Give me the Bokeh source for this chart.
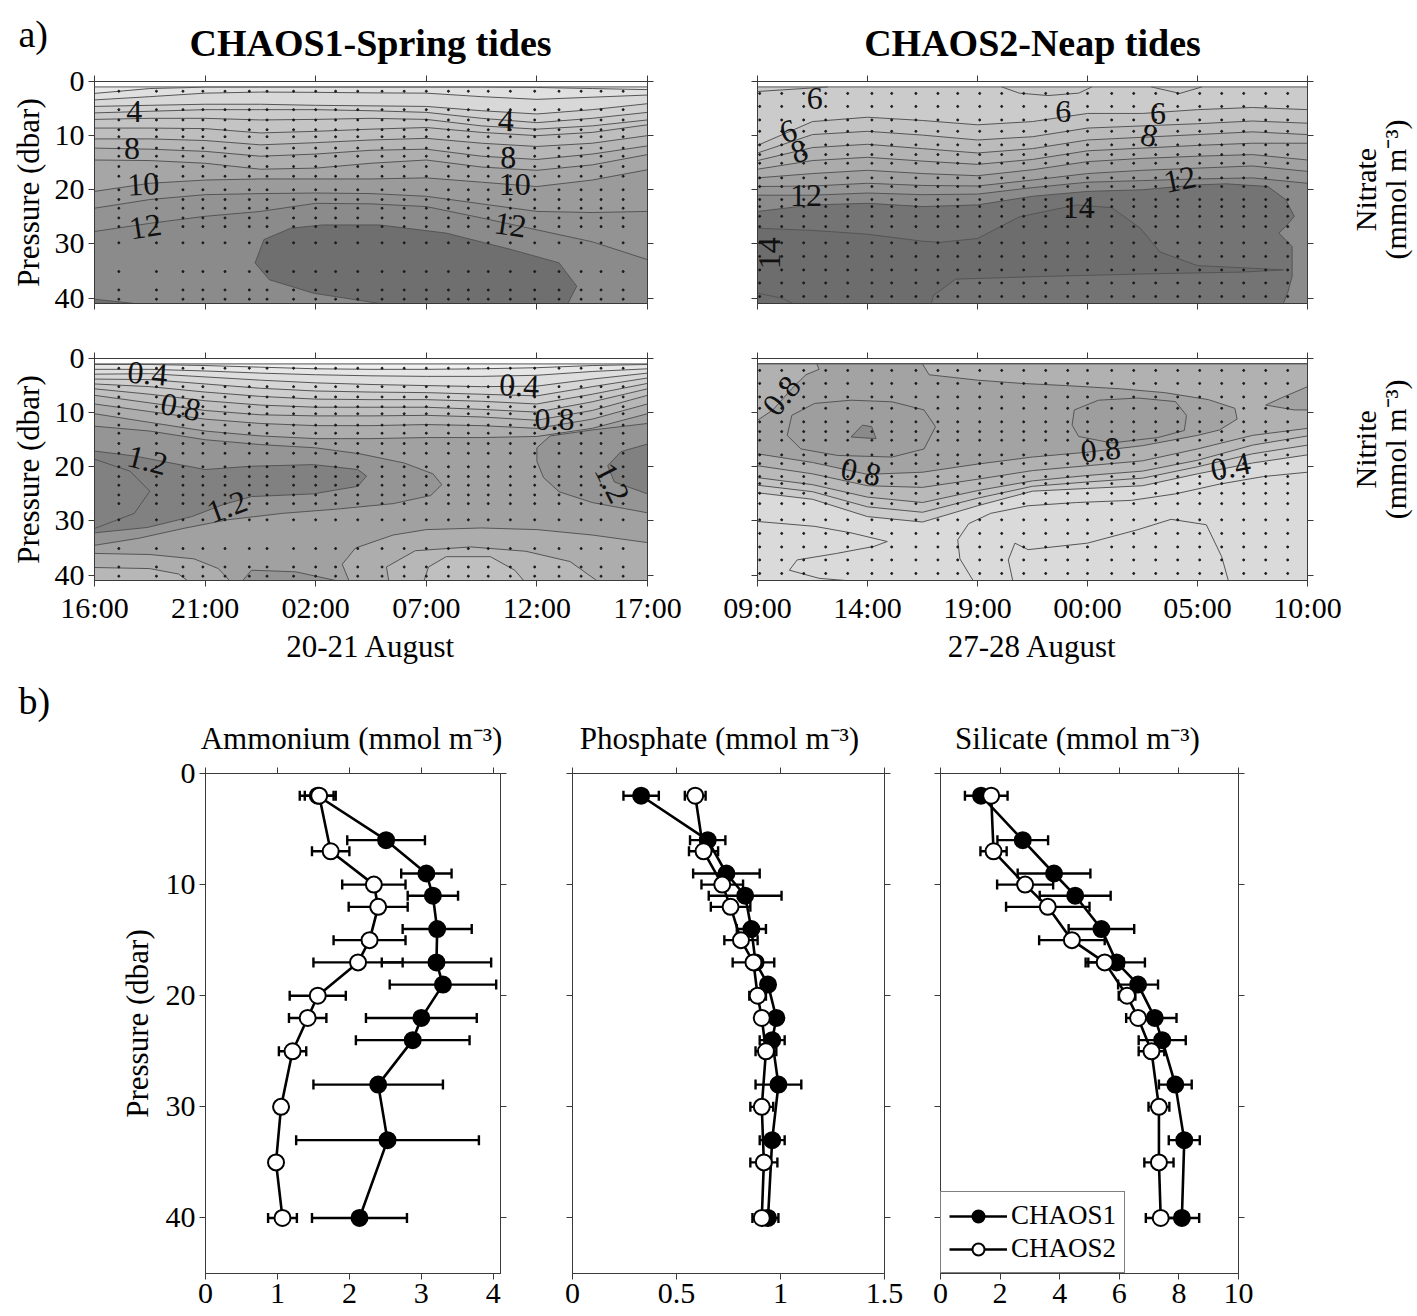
import math
from bokeh.plotting import figure
from bokeh.layouts import column, row
from bokeh.models import (Range1d, FixedTicker, LinearAxis, Whisker, TeeHead,
                          ColumnDataSource, Legend, LegendItem)
from bokeh.core.properties import value
from bokeh.embed import file_html
from bokeh.resources import INLINE

FONT = "Liberation Serif"
AXIS_COLOR = "#3a3a3a"
ISO_COLOR = "#555555"

# ======================= DATA : contour sections =======================
T_START, T_END = 0.0, 25.0              # hours since first cast
TOP_DEPTH, BOTTOM_DEPTH = 1.0, 41.0     # dbar
NODES = [0, 2.5, 5, 7.5, 10, 12.5, 15, 17.5, 20, 22.5, 25]
TIME_TICKS = [0, 5, 10, 15, 20, 25]
C1_TIME_LABELS = ["16:00", "21:00", "02:00", "07:00", "12:00", "17:00"]
C2_TIME_LABELS = ["09:00", "14:00", "19:00", "00:00", "05:00", "10:00"]
DEPTH_TICKS = [0, 10, 20, 30, 40]

C1_CASTS = [1.1, 2.8, 4.0, 4.9, 5.9, 7.0, 7.8, 9.0, 10.0, 10.9, 11.9, 13.0, 14.0, 15.0,
            16.0, 16.9, 17.8, 18.8, 19.9, 21.0, 22.0, 22.9, 23.9]
C1_SAMPLE_DEPTHS = [1.8, 5.2, 7.1, 8.9, 10.2, 12.3, 13.8, 15.7, 17.5, 20.0, 21.8, 23.4,
                    25.2, 26.8, 29.8, 35.1, 38.5, 40.2]
C2_CASTS = [0.1, 1.1, 2.1, 3.1, 4.1, 5.2, 6.1, 7.2, 8.2, 9.1, 10.1, 11.1, 12.1, 13.1, 14.1,
            15.0, 16.1, 17.1, 18.1, 19.1, 20.1, 21.1, 22.1, 23.1, 24.1]
C2_SAMPLE_DEPTHS = [2.2, 4.6, 7.1, 9.2, 11.7, 13.5, 15.1, 17.8, 19.4, 21.8, 23.1, 24.9,
                    26.8, 29.8, 32.3, 34.8, 37.2, 39.7]

# --- Nitrate, CHAOS1: isoline depths (one row per level, at NODES) ---
NO3_C1_LEVELS = [1, 2, 3, 4, 5, 6, 7, 8, 9, 10, 11, 12]
NO3_C1_DEPTHS = [
    [2.2, 1.3, 1.05, 1.05, 1.05, 1.05, 1.05, 1.05, 1.1, 1.3, 1.5],
    [3.4, 2.8, 2.15, 1.95, 2.0, 2.1, 2.15, 2.8, 3.3, 2.9, 2.5],
    [4.6, 4.4, 4.2, 4.2, 4.4, 4.5, 4.6, 5.4, 6.0, 5.2, 4.1],
    [5.8, 5.5, 5.2, 5.2, 5.2, 5.4, 5.7, 6.8, 7.6, 6.8, 5.7],
    [7.0, 6.8, 6.8, 7.1, 7.0, 6.8, 7.0, 8.2, 8.8, 8.2, 7.1],
    [8.6, 8.6, 8.7, 9.5, 9.2, 8.8, 8.5, 9.4, 10.0, 9.4, 8.0],
    [10.6, 10.6, 10.9, 11.7, 11.3, 10.8, 10.5, 11.4, 12.0, 11.4, 10.0],
    [12.3, 12.5, 12.9, 13.8, 13.4, 12.7, 12.5, 13.8, 14.4, 13.4, 11.9],
    [14.5, 14.6, 15.1, 16.2, 16.0, 15.1, 14.5, 15.8, 16.4, 15.4, 13.5],
    [20.3, 18.8, 18.2, 18.0, 18.0, 18.0, 17.8, 18.6, 19.4, 18.2, 16.3],
    [23.4, 21.8, 20.9, 20.7, 20.6, 20.7, 21.2, 22.6, 24.0, 24.2, 24.0],
    [27.7, 26.2, 24.9, 24.0, 22.5, 22.6, 23.1, 25.2, 27.4, 29.6, 32.9],
]
NO3_C1_MAX13_T = [7.26, 7.66, 8.87, 10.3, 12.9, 15.9, 18.9, 21.0, 21.8, 21.4, 12.9, 9.9, 7.9]
NO3_C1_MAX13_D = [33.5, 29.2, 27.1, 26.5, 26.5, 28.0, 31.1, 33.5, 37.8, 41.0, 41.0, 39.1, 36.6]
NO3_C1_CORNER13_T = [0, 1.8, 0]
NO3_C1_CORNER13_D = [40.2, 41.0, 41.0]
NO3_C1_LABEL_T = [1.8, 1.7, 2.2, 2.3, 18.6, 18.7, 19.0, 18.8]
NO3_C1_LABEL_D = [5.5, 12.4, 19.0, 26.8, 7.2, 14.1, 19.0, 26.5]
NO3_C1_LABEL_TXT = ["4", "8", "10", "12", "4", "8", "10", "12"]
NO3_C1_LABEL_ANG = [0, 0, 0.05, 0.15, -0.05, 0, 0, -0.15]

# --- Nitrate, CHAOS2 ---
NO3_C2_LEVELS = [6, 7, 8, 9, 10, 11, 12]
NO3_C2_DEPTHS = [
    [11.8, 7.4, 6.6, 7.2, 8.0, 7.4, 5.9, 5.9, 5.2, 4.8, 5.2],
    [13.2, 9.8, 9.2, 9.9, 10.8, 10.2, 8.6, 8.2, 7.8, 7.3, 7.7],
    [14.6, 12.2, 11.6, 12.4, 13.2, 12.4, 10.8, 10.3, 9.8, 9.3, 9.8],
    [16.2, 14.6, 14.0, 14.7, 15.3, 14.4, 12.8, 12.3, 11.8, 11.4, 11.4],
    [17.8, 17.0, 16.4, 17.0, 17.4, 16.3, 14.8, 14.2, 13.8, 13.5, 14.5],
    [19.4, 19.3, 18.8, 19.2, 19.3, 18.2, 17.0, 16.4, 16.0, 15.6, 16.6],
    [21.0, 21.0, 20.6, 20.9, 20.8, 19.6, 18.6, 18.3, 18.0, 17.8, 18.8],
]
NO3_C2_MAX13_T = [0, 2.5, 5, 7.5, 10, 12.5, 15, 17.5, 20, 21.3, 23.2, 24.0, 24.4, 24.0, 23.7,
                  24.3, 24.3, 24.1, 23.9, 0]
NO3_C2_MAX13_D = [24.0, 22.8, 22.5, 23.1, 22.8, 21.2, 20.3, 20.0, 19.1, 18.9, 19.4, 21.8, 24.9,
                  26.8, 28.0, 30.5, 36.0, 39.0, 41.0, 41.0]
NO3_C2_MAX14_T = [0, 2.5, 5, 7.5, 8.3, 10, 11.9, 14.5, 16.1, 17.4, 18.3, 20, 22.5, 23.9, 22,
                  18, 13, 9, 8, 7.9, 0]
NO3_C2_MAX14_D = [27.1, 27.5, 28.2, 29.5, 29.7, 29.0, 25.0, 22.8, 23.3, 27.1, 31.5, 34.0, 34.5,
                  34.8, 35.2, 35.5, 36.0, 36.5, 39.5, 41.0, 41.0]
NO3_C2_POCKET1_T = [0, 1.14, 3.2]
NO3_C2_POCKET1_D = [1.85, 1.55, 1.0]
NO3_C2_POCKET2_T = [11.1, 11.9, 13.2, 14.6, 15.2]
NO3_C2_POCKET2_D = [1.0, 2.15, 2.6, 2.15, 1.0]
NO3_C2_POCKET3_T = [17.9, 19.2, 20.2]
NO3_C2_POCKET3_D = [1.0, 2.2, 1.0]
NO3_C2_CORNER_T = [0, 1.1, 1.6]
NO3_C2_CORNER_D = [39.1, 40.0, 41.0]
NO3_C2_LABEL_T = [2.6, 1.4, 1.9, 2.2, 0.55, 13.9, 14.6, 18.2, 17.8, 19.2]
NO3_C2_LABEL_D = [3.1, 9.2, 12.9, 21.1, 31.7, 5.6, 23.3, 5.9, 10.0, 18.1]
NO3_C2_LABEL_TXT = ["6", "6", "8", "12", "14", "6", "14", "6", "8", "12"]
NO3_C2_LABEL_ANG = [0, 0.3, 0.3, 0, math.pi / 2, 0, 0, 0, -0.25, 0.2]

# --- Nitrite, CHAOS1 ---
NO2_C1_LEVELS = [0.2, 0.3, 0.4, 0.5, 0.6, 0.7, 0.8, 0.9, 1.0]
NO2_C1_DEPTHS = [
    [1.1, 1.1, 1.3, 1.6, 1.9, 2.0, 2.0, 1.9, 1.7, 1.3, 1.1],
    [2.0, 2.0, 2.3, 2.7, 3.0, 3.2, 3.3, 3.3, 3.1, 2.4, 1.9],
    [2.9, 2.8, 3.4, 4.0, 4.5, 4.8, 5.0, 5.2, 5.1, 3.8, 2.7],
    [3.8, 3.9, 4.7, 5.5, 6.0, 6.2, 6.3, 6.6, 6.9, 5.2, 3.6],
    [4.7, 5.2, 6.2, 7.0, 7.5, 7.6, 7.6, 7.9, 8.4, 6.6, 4.6],
    [5.6, 6.6, 7.8, 8.6, 9.0, 9.0, 9.0, 9.4, 9.9, 8.0, 5.6],
    [6.8, 8.2, 9.6, 10.4, 10.6, 10.6, 10.5, 10.8, 11.4, 9.6, 6.8],
    [8.4, 9.8, 11.2, 12.0, 12.4, 12.4, 12.2, 12.4, 12.9, 11.2, 8.4],
    [10.2, 11.8, 13.4, 14.3, 14.8, 14.8, 14.6, 14.6, 14.4, 12.9, 10.2],
]
NO2_C1_LOW10_LEFT_T = [0, 2.5, 4.5, 5.6, 6.1]
NO2_C1_LOW10_LEFT_D = [36.0, 36.2, 37.0, 38.8, 41.0]
NO2_C1_LOW10_RIGHT_T = [11.5, 11.2, 11.8, 13.5, 15, 17.5, 20, 22.5, 25]
NO2_C1_LOW10_RIGHT_D = [41.0, 38.0, 35.0, 32.6, 31.6, 31.3, 31.6, 32.6, 34.0]
NO2_C1_LOW09_LEFT_T = [0, 2.5, 3.8, 4.2]
NO2_C1_LOW09_LEFT_D = [38.6, 38.8, 39.8, 41.0]
NO2_C1_LOW09_MID_T = [13.3, 13.2, 14.5, 17, 19.5, 21.5, 22.7]
NO2_C1_LOW09_MID_D = [41.0, 38.5, 35.5, 34.8, 35.6, 37.5, 41.0]
NO2_C1_LOW08_T = [14.9, 15.1, 15.9, 17.9, 19.0, 19.4]
NO2_C1_LOW08_D = [41.0, 38.5, 36.6, 36.6, 39.1, 41.0]
NO2_C1_HI11_LEFT_T = [0, 2.5, 5, 7.5, 10, 12, 14, 15.3, 15.7, 15.2, 13.5, 11, 8.5, 6, 4, 2, 0]
NO2_C1_HI11_LEFT_D = [12.5, 13.4, 15.0, 15.9, 16.5, 17.6, 19.3, 21.3, 23.3, 25.3, 26.8, 27.8,
                      28.6, 29.8, 31.4, 33.2, 34.5]
NO2_C1_HI11_RIGHT_T = [25, 22.5, 20.6, 20.0, 20.0, 20.3, 21.0, 22.5, 25]
NO2_C1_HI11_RIGHT_D = [12.0, 13.2, 14.3, 16.5, 19.0, 22.0, 24.6, 26.6, 28.5]
NO2_C1_HI11_BOTTOM_T = [6.7, 7.1, 9.1, 10.9]
NO2_C1_HI11_BOTTOM_D = [41.0, 39.1, 39.4, 41.0]
NO2_C1_HI12_LEFT_T = [0, 1.8, 5.0, 7.1, 9.9, 11.9, 12.3, 11.9, 9.9, 7.1, 5.8, 4.4, 2.4, 0]
NO2_C1_HI12_LEFT_D = [17.1, 18.0, 20.5, 19.9, 19.6, 20.5, 21.7, 23.6, 25.0, 25.5, 27.0, 29.2,
                      31.2, 32.2]
NO2_C1_HI12_RIGHT_T = [25, 23.8, 23.2, 23.5, 25]
NO2_C1_HI12_RIGHT_D = [15.8, 17.2, 19.8, 22.8, 25.0]
NO2_C1_HI13_T = [0, 1.6, 2.5, 1.8, 0]
NO2_C1_HI13_D = [18.6, 20.8, 24.5, 28.6, 31.4]
NO2_C1_LABEL_T = [2.4, 3.9, 2.4, 6.0, 19.2, 20.8, 23.4]
NO2_C1_LABEL_D = [2.8, 9.0, 18.8, 27.4, 5.0, 11.2, 23.0]
NO2_C1_LABEL_TXT = ["0.4", "0.8", "1.2", "1.2", "0.4", "0.8", "1.2"]
NO2_C1_LABEL_ANG = [-0.08, -0.2, -0.25, 0.35, -0.05, 0.0, -1.1]

# --- Nitrite, CHAOS2 ---
NO2_C2_A_T = [0, 2.5, 5, 7.5, 10, 12.5, 15, 17.5, 20]
NO2_C2_A_D = [17.6, 19.2, 21.4, 21.0, 19.5, 18.2, 17.3, 16.1, 14.2]          # 0.8
NO2_C2_F_T = [7.5, 7.8, 10, 12, 14, 16.5, 18.5, 20.5, 21.7, 21.8, 21.0]
NO2_C2_F_D = [1.0, 3.0, 4.0, 4.6, 5.0, 5.6, 6.3, 7.6, 9.2, 11.2, 13.2]        # 0.8
NO2_C2_PK_T = [0, 0.7, 1.55, 2.2, 2.8, 2.7]
NO2_C2_PK_D = [11.4, 9.5, 5.6, 3.0, 2.0, 1.0]                                # 0.8
NO2_C2_B = [19.8, 21.3, 23.5, 23.8, 22.3, 20.7, 19.8, 18.9, 16.7, 14.2, 12.9]   # 0.7
NO2_C2_C = [22.0, 23.3, 25.6, 26.6, 24.4, 22.6, 21.6, 20.8, 18.8, 16.0, 14.3]   # 0.6
NO2_C2_D = [23.4, 24.6, 27.4, 28.4, 25.8, 23.6, 22.8, 22.1, 20.0, 17.6, 16.0]   # 0.5
NO2_C2_E = [24.8, 26.0, 29.2, 30.2, 27.2, 24.5, 24.0, 23.5, 21.3, 19.3, 17.8]   # 0.4
NO2_C2_TRPK_T = [23.1, 23.8, 25, 25, 24.4]
NO2_C2_TRPK_D = [8.6, 7.3, 5.2, 9.5, 9.5]
NO2_C2_OVAL1_T = [1.35, 1.56, 2.59, 4.25, 6.12, 7.57, 8.09, 7.57, 6.12, 3.63, 1.97]
NO2_C2_OVAL1_D = [14.2, 10.5, 8.3, 7.7, 8.0, 9.5, 12.6, 16.7, 18.2, 17.9, 16.7]
NO2_C2_OVAL2_T = [14.4, 15.5, 17.3, 19.0, 19.5, 19.4, 18.2, 16.1, 14.6, 14.3]
NO2_C2_OVAL2_D = [9.5, 7.7, 7.3, 7.96, 10.5, 13.3, 14.6, 15.6, 14.4, 12.3]
NO2_C2_BLOB_T = [4.25, 4.77, 5.19, 5.39]
NO2_C2_BLOB_D = [14.5, 12.3, 12.6, 14.8]
NO2_C2_G_T = [9.8, 9.2, 9.1, 9.6, 10.6, 12.3, 14.5, 17, 19, 21, 23, 25]
NO2_C2_G_D = [41.0, 37.0, 33.5, 30.5, 28.6, 27.2, 26.6, 26.2, 25.0, 23.2, 21.8, 21.0]
NO2_C2_H_T = [11.6, 11.4, 11.7, 12.3, 15.0, 17.3, 18.8, 20.4, 21.1, 21.4]
NO2_C2_H_D = [41.0, 37.2, 34.1, 35.3, 34.1, 31.6, 29.7, 30.7, 36.6, 41.0]
NO2_C2_BL_T = [0, 2.6, 4.25, 5.9, 5.3, 3.6, 1.8, 1.45, 2.8, 4.0]
NO2_C2_BL_D = [30.1, 31.0, 32.2, 33.8, 34.7, 36.0, 37.2, 39.1, 40.6, 41.0]
NO2_C2_LABEL_T = [1.1, 4.7, 15.6, 21.5]
NO2_C2_LABEL_D = [6.9, 21.0, 16.9, 20.0]
NO2_C2_LABEL_TXT = ["0.8", "0.8", "0.8", "0.4"]
NO2_C2_LABEL_ANG = [0.9, -0.2, 0.1, 0.2]

# ======================= DATA : vertical profiles =======================
DEPTH_C1 = [2, 6, 9, 11, 14, 17, 19, 22, 24, 28, 33, 40]
DEPTH_C2 = [2, 7, 10, 12, 15, 17, 20, 22, 25, 30, 35, 40]
NH4_C1 = [1.56, 2.51, 3.07, 3.16, 3.22, 3.21, 3.30, 3.00, 2.88, 2.40, 2.53, 2.14]
NH4_C1_ERR = [0.25, 0.54, 0.35, 0.35, 0.48, 0.76, 0.74, 0.77, 0.79, 0.90, 1.27, 0.66]
NH4_C2 = [1.58, 1.74, 2.34, 2.40, 2.28, 2.12, 1.56, 1.42, 1.21, 1.05, 0.98, 1.07]
NH4_C2_ERR = [0.20, 0.26, 0.44, 0.41, 0.50, 0.62, 0.39, 0.26, 0.19, 0.08, 0.08, 0.20]
PO4_C1 = [0.33, 0.65, 0.74, 0.83, 0.86, 0.88, 0.94, 0.98, 0.96, 0.99, 0.96, 0.94]
PO4_C1_ERR = [0.085, 0.085, 0.16, 0.175, 0.07, 0.03, 0.03, 0.03, 0.06, 0.11, 0.06, 0.05]
PO4_C2 = [0.59, 0.63, 0.72, 0.76, 0.81, 0.87, 0.89, 0.91, 0.93, 0.91, 0.92, 0.91]
PO4_C2_ERR = [0.05, 0.07, 0.10, 0.095, 0.08, 0.10, 0.04, 0.03, 0.05, 0.055, 0.065, 0.045]
SIO_C1 = [1.36, 2.76, 3.81, 4.52, 5.40, 5.91, 6.63, 7.19, 7.44, 7.88, 8.18, 8.10]
SIO_C1_ERR = [0.54, 0.85, 1.22, 1.19, 1.10, 0.95, 0.67, 0.73, 0.79, 0.55, 0.52, 0.58]
SIO_C2 = [1.70, 1.78, 2.84, 3.60, 4.41, 5.51, 6.26, 6.63, 7.08, 7.33, 7.33, 7.39]
SIO_C2_ERR = [0.55, 0.44, 0.94, 1.40, 1.10, 0.64, 0.28, 0.40, 0.43, 0.35, 0.49, 0.50]
NH4_TICKS = [0, 1, 2, 3, 4]
PO4_TICKS = [0, 0.5, 1, 1.5]
SIO_TICKS = [0, 2, 4, 6, 8, 10]
PROFILE_DEPTH_TICKS = [0, 10, 20, 30, 40]

# ======================= STYLE =======================
NO3_C1_SHADES = ["#e8e8e8", "#e0e0e0", "#d8d8d8", "#d0d0d0", "#cacaca", "#c4c4c4", "#bebebe",
                 "#b6b6b6", "#aeaeae", "#a6a6a6", "#9b9b9b", "#939393", "#8b8b8b"]
NO3_C1_SHADE13 = "#6f6f6f"
NO3_C2_SHADES = ["#cbcbcb", "#c3c3c3", "#bbbbbb", "#b3b3b3", "#ababab", "#a1a1a1", "#979797",
                 "#8b8b8b"]
NO3_C2_SHADE13, NO3_C2_SHADE14 = "#747474", "#6d6d6d"
NO2_C1_SHADES = ["#efefef", "#e6e6e6", "#dedede", "#d6d6d6", "#cecece", "#c7c7c7", "#bfbfbf",
                 "#b7b7b7", "#adadad", "#a1a1a1"]
NO2_C1_S11, NO2_C1_S12 = "#959595", "#818181"
NO2_C2_S = {"0.2": "#dadada", "0.4": "#cbcbcb", "0.5": "#c3c3c3", "0.6": "#b9b9b9",
            "0.7": "#b1b1b1", "0.8": "#a3a3a3", "0.9": "#9e9e9e", "1.0": "#8a8a8a"}

FULL_W = 1417
HEAD_A_H = 64
W_TL, W_TR = 702, 645
W_RL = FULL_W - W_TL - W_TR
H1 = 17 + 222 + 20
H2 = 35 + 222 + 90
HEAD_B_H = 86
H3 = 17 + 500 + 43


def whole():
    return [T_START, T_END, T_END, T_START], [TOP_DEPTH, TOP_DEPTH, BOTTOM_DEPTH, BOTTOM_DEPTH]


def below(ts, ds):
    return list(ts) + [ts[-1], ts[0]], list(ds) + [BOTTOM_DEPTH, BOTTOM_DEPTH]


def above(ts, ds):
    return list(ts) + [ts[-1], ts[0]], list(ds) + [TOP_DEPTH, TOP_DEPTH]


def add_axis(p, side, ticks, labels=None, size="30px", axis_label=None, label_standoff=6):
    ax = LinearAxis(ticker=FixedTicker(ticks=ticks, minor_ticks=[]))
    ax.major_tick_in = 0
    ax.major_tick_out = 6
    ax.minor_tick_in = 0
    ax.minor_tick_out = 0
    ax.axis_line_color = AXIS_COLOR
    ax.major_tick_line_color = AXIS_COLOR
    ax.major_label_text_font = FONT
    if labels is None:
        ax.major_label_text_font_size = "1px"
        ax.major_label_text_color = None
        ax.major_label_standoff = 0
    else:
        ax.major_label_text_color = "black"
        ax.major_label_text_font_size = size
        ax.major_label_standoff = 4
        ax.major_label_overrides = {t: l for t, l in zip(ticks, labels)}
    if axis_label:
        ax.axis_label = axis_label
        ax.axis_label_text_font = FONT
        ax.axis_label_text_font_size = "31px"
        ax.axis_label_text_font_style = "normal"
        ax.axis_label_text_color = "black"
        ax.axis_label_standoff = label_standoff
    p.add_layout(ax, side)
    return ax


def new_fig(w, h, bl, br, bt, bb, xr, yr):
    p = figure(width=w, height=h, x_range=xr, y_range=yr, x_axis_type=None, y_axis_type=None,
               output_backend="svg", toolbar_location=None,
               min_border_left=bl, min_border_right=br, min_border_top=bt, min_border_bottom=bb)
    p.outline_line_color = AXIS_COLOR
    p.outline_line_width = 1
    p.background_fill_color = "white"
    p.border_fill_color = "white"
    return p


def text_fig(w, h, items):
    """A frame-only canvas (pixel coordinates) holding free text."""
    p = figure(width=w, height=h, x_range=Range1d(0, w), y_range=Range1d(h, 0),
               x_axis_type=None, y_axis_type=None, output_backend="svg",
               toolbar_location=None, min_border=0)
    p.outline_line_color = None
    p.background_fill_color = "white"
    p.border_fill_color = "white"
    for (x, y, txt, size, bold, align, baseline, ang) in items:
        p.text(x=[x], y=[y], text=[txt], angle=ang, text_font=value(FONT),
               text_font_size=value(size), text_font_style="bold" if bold else "normal",
               text_align=align, text_baseline=baseline, text_color="black")
    return p


def section(w, h, bl, br, bt, bb, regions, lines, casts, depths, labels,
            time_labels, left_labels, bottom_labels, xlabel=None):
    p = new_fig(w, h, bl, br, bt, bb, Range1d(T_START, T_END), Range1d(BOTTOM_DEPTH, 0))
    p.patches(xs=[r[0] for r in regions], ys=[r[1] for r in regions],
              fill_color=[r[2] for r in regions], line_color=ISO_COLOR, line_width=1)
    if lines:
        p.multi_line(xs=[l[0] for l in lines], ys=[l[1] for l in lines],
                     line_color=ISO_COLOR, line_width=1)
    dx = [t for t in casts for d in depths]
    dy = [d for t in casts for d in depths]
    p.scatter(x=dx, y=dy, size=2.0, color="#1a1a1a")
    lt, ld, ltxt, lang = labels
    p.text(x=lt, y=ld, text=ltxt, angle=lang, text_font=value(FONT),
           text_font_size=value("32px"), text_align="center", text_baseline="middle",
           text_color="#111111")
    add_axis(p, "below", TIME_TICKS, time_labels if bottom_labels else None,
             axis_label=xlabel, label_standoff=2)
    add_axis(p, "left", DEPTH_TICKS, [str(d) for d in DEPTH_TICKS] if left_labels else None,
             axis_label="Pressure (dbar)" if left_labels else None, label_standoff=6)
    add_axis(p, "above", TIME_TICKS, None)
    add_axis(p, "right", DEPTH_TICKS, None)
    return p


# ---------------- header a) ----------------
head_a = text_fig(FULL_W, HEAD_A_H, [
    (18, 33, "a)", "38px", False, "left", "middle", 0.0),
    (370, 42, "CHAOS1-Spring tides", "38px", True, "center", "middle", 0.0),
    (1032, 42, "CHAOS2-Neap tides", "38px", True, "center", "middle", 0.0),
])

# ---------------- top-left: nitrate CHAOS1 ----------------
reg = [whole() + (NO3_C1_SHADES[0],)]
for i, d in enumerate(NO3_C1_DEPTHS):
    reg.append(below(NODES, d) + (NO3_C1_SHADES[i + 1],))
reg.append((NO3_C1_MAX13_T, NO3_C1_MAX13_D, NO3_C1_SHADE13))
reg.append((NO3_C1_CORNER13_T, NO3_C1_CORNER13_D, NO3_C1_SHADE13))
tl = section(W_TL, H1, 94, 55, 17, 20, reg, [], C1_CASTS, C1_SAMPLE_DEPTHS,
             (NO3_C1_LABEL_T, NO3_C1_LABEL_D, NO3_C1_LABEL_TXT, NO3_C1_LABEL_ANG),
             C1_TIME_LABELS, True, False)

# ---------------- top-right: nitrate CHAOS2 ----------------
reg = [whole() + (NO3_C2_SHADES[0],)]
for i, d in enumerate(NO3_C2_DEPTHS):
    reg.append(below(NODES, d) + (NO3_C2_SHADES[i + 1],))
reg.append((NO3_C2_MAX13_T, NO3_C2_MAX13_D, NO3_C2_SHADE13))
reg.append((NO3_C2_MAX14_T, NO3_C2_MAX14_D, NO3_C2_SHADE14))
lines = [(NO3_C2_POCKET1_T, NO3_C2_POCKET1_D), (NO3_C2_POCKET2_T, NO3_C2_POCKET2_D),
         (NO3_C2_POCKET3_T, NO3_C2_POCKET3_D), (NO3_C2_CORNER_T, NO3_C2_CORNER_D)]
tr = section(W_TR, H1, 55, 40, 17, 20, reg, lines, C2_CASTS, C2_SAMPLE_DEPTHS,
             (NO3_C2_LABEL_T, NO3_C2_LABEL_D, NO3_C2_LABEL_TXT, NO3_C2_LABEL_ANG),
             C2_TIME_LABELS, False, False)
rl1 = text_fig(W_RL, H1, [
    (18, 126, "Nitrate", "30px", False, "center", "middle", math.pi / 2),
    (48, 126, "(mmol m\u207b\u00b3)", "30px", False, "center", "middle", math.pi / 2),
])

# ---------------- bottom-left: nitrite CHAOS1 ----------------
reg = [whole() + (NO2_C1_SHADES[0],)]
for i, d in enumerate(NO2_C1_DEPTHS):
    reg.append(below(NODES, d) + (NO2_C1_SHADES[i + 1],))
reg.append((NO2_C1_LOW10_LEFT_T + [0], NO2_C1_LOW10_LEFT_D + [41.0], NO2_C1_SHADES[8]))
reg.append((NO2_C1_LOW10_RIGHT_T + [25], NO2_C1_LOW10_RIGHT_D + [41.0], NO2_C1_SHADES[8]))
reg.append((NO2_C1_LOW09_LEFT_T + [0], NO2_C1_LOW09_LEFT_D + [41.0], NO2_C1_SHADES[7]))
reg.append((NO2_C1_LOW09_MID_T, NO2_C1_LOW09_MID_D, NO2_C1_SHADES[7]))
reg.append((NO2_C1_LOW08_T, NO2_C1_LOW08_D, NO2_C1_SHADES[6]))
reg.append((NO2_C1_HI11_LEFT_T, NO2_C1_HI11_LEFT_D, NO2_C1_S11))
reg.append((NO2_C1_HI11_RIGHT_T, NO2_C1_HI11_RIGHT_D, NO2_C1_S11))
reg.append((NO2_C1_HI11_BOTTOM_T, NO2_C1_HI11_BOTTOM_D, NO2_C1_S11))
reg.append((NO2_C1_HI12_LEFT_T, NO2_C1_HI12_LEFT_D, NO2_C1_S12))
reg.append((NO2_C1_HI12_RIGHT_T, NO2_C1_HI12_RIGHT_D, NO2_C1_S12))
bl = section(W_TL, H2, 94, 55, 35, 90, reg, [(NO2_C1_HI13_T, NO2_C1_HI13_D)],
             C1_CASTS, C1_SAMPLE_DEPTHS,
             (NO2_C1_LABEL_T, NO2_C1_LABEL_D, NO2_C1_LABEL_TXT, NO2_C1_LABEL_ANG),
             C1_TIME_LABELS, True, True, xlabel="20-21 August")

# ---------------- bottom-right: nitrite CHAOS2 ----------------
hi08_t = NO2_C2_PK_T + NO2_C2_F_T + NO2_C2_A_T[::-1]
hi08_d = NO2_C2_PK_D + NO2_C2_F_D + NO2_C2_A_D[::-1]
reg = [whole() + (NO2_C2_S["0.2"],),
       above(NODES, NO2_C2_E) + (NO2_C2_S["0.4"],),
       above(NODES, NO2_C2_D) + (NO2_C2_S["0.5"],),
       above(NODES, NO2_C2_C) + (NO2_C2_S["0.6"],),
       above(NODES, NO2_C2_B) + (NO2_C2_S["0.7"],),
       (hi08_t, hi08_d, NO2_C2_S["0.8"]),
       (NO2_C2_TRPK_T, NO2_C2_TRPK_D, NO2_C2_S["0.8"]),
       (NO2_C2_OVAL1_T, NO2_C2_OVAL1_D, NO2_C2_S["0.9"]),
       (NO2_C2_OVAL2_T, NO2_C2_OVAL2_D, NO2_C2_S["0.9"]),
       (NO2_C2_BLOB_T, NO2_C2_BLOB_D, NO2_C2_S["1.0"])]
lines = [(NO2_C2_G_T, NO2_C2_G_D), (NO2_C2_H_T, NO2_C2_H_D), (NO2_C2_BL_T, NO2_C2_BL_D)]
br = section(W_TR, H2, 55, 40, 35, 90, reg, lines, C2_CASTS, C2_SAMPLE_DEPTHS,
             (NO2_C2_LABEL_T, NO2_C2_LABEL_D, NO2_C2_LABEL_TXT, NO2_C2_LABEL_ANG),
             C2_TIME_LABELS, False, True, xlabel="27-28 August")
rl2 = text_fig(W_RL, H2, [
    (18, 142, "Nitrite", "30px", False, "center", "middle", math.pi / 2),
    (48, 142, "(mmol m\u207b\u00b3)", "30px", False, "center", "middle", math.pi / 2),
])

# ---------------- header b) ----------------
head_b = text_fig(FULL_W, HEAD_B_H, [
    (18, 30, "b)", "38px", False, "left", "middle", 0.0),
    (351, 68, "Ammonium (mmol m\u207b\u00b3)", "31px", False, "center", "middle", 0.0),
    (719, 68, "Phosphate (mmol m\u207b\u00b3)", "31px", False, "center", "middle", 0.0),
    (1077, 68, "Silicate (mmol m\u207b\u00b3)", "31px", False, "center", "middle", 0.0),
])


# ---------------- profiles ----------------
def profile(w, bl_, br_, xmax, ticks, c1, c1e, c2, c2e, left_labels):
    p = new_fig(w, H3, bl_, br_, 17, 43, Range1d(0, xmax), Range1d(45, 0))
    for vals, errs, deps in ((c1, c1e, DEPTH_C1), (c2, c2e, DEPTH_C2)):
        src = ColumnDataSource(dict(y=deps, lo=[v - e for v, e in zip(vals, errs)],
                                    hi=[v + e for v, e in zip(vals, errs)]))
        wk = Whisker(source=src, base="y", lower="lo", upper="hi", dimension="width",
                     line_color="black", line_width=2.4, level="underlay",
                     upper_head=TeeHead(size=10, line_color="black", line_width=2.4),
                     lower_head=TeeHead(size=10, line_color="black", line_width=2.4))
        p.add_layout(wk)
    l1 = p.line(c1, DEPTH_C1, line_color="black", line_width=2.6)
    l2 = p.line(c2, DEPTH_C2, line_color="black", line_width=2.6)
    s1 = p.scatter(c1, DEPTH_C1, size=16, fill_color="black", line_color="black", line_width=2)
    s2 = p.scatter(c2, DEPTH_C2, size=16, fill_color="white", line_color="black", line_width=2)
    add_axis(p, "below", ticks, [("%g" % t) for t in ticks], size="30px")
    add_axis(p, "left", PROFILE_DEPTH_TICKS,
             [str(t) for t in PROFILE_DEPTH_TICKS] if left_labels else None,
             axis_label="Pressure (dbar)" if left_labels else None, label_standoff=8)
    add_axis(p, "above", ticks, None)
    add_axis(p, "right", PROFILE_DEPTH_TICKS, None)
    return p, (l1, s1, l2, s2)


am, _ = profile(536, 205, 36, 4.1, NH4_TICKS, NH4_C1, NH4_C1_ERR, NH4_C2, NH4_C2_ERR, True)
ph, _ = profile(376, 36, 28, 1.5, PO4_TICKS, PO4_C1, PO4_C1_ERR, PO4_C2, PO4_C2_ERR, False)
si, rs = profile(505, 28, 179, 10, SIO_TICKS, SIO_C1, SIO_C1_ERR, SIO_C2, SIO_C2_ERR, False)

legend = Legend(items=[LegendItem(label="CHAOS1", renderers=[rs[0], rs[1]]),
                       LegendItem(label="CHAOS2", renderers=[rs[2], rs[3]])],
                location="bottom_left")
legend.margin = 0
legend.padding = 8
legend.spacing = 2
legend.glyph_width = 58
legend.glyph_height = 30
legend.label_standoff = 4
legend.label_text_font = FONT
legend.label_text_font_size = "27px"
legend.label_text_color = "black"
legend.border_line_color = "black"
legend.border_line_width = 1
legend.background_fill_alpha = 1.0
si.add_layout(legend)

layout = column(head_a, row(tl, tr, rl1), row(bl, br, rl2), head_b, row(am, ph, si))
open("out.html", "w").write(file_html(layout, INLINE, title="CHAOS nutrients"))
